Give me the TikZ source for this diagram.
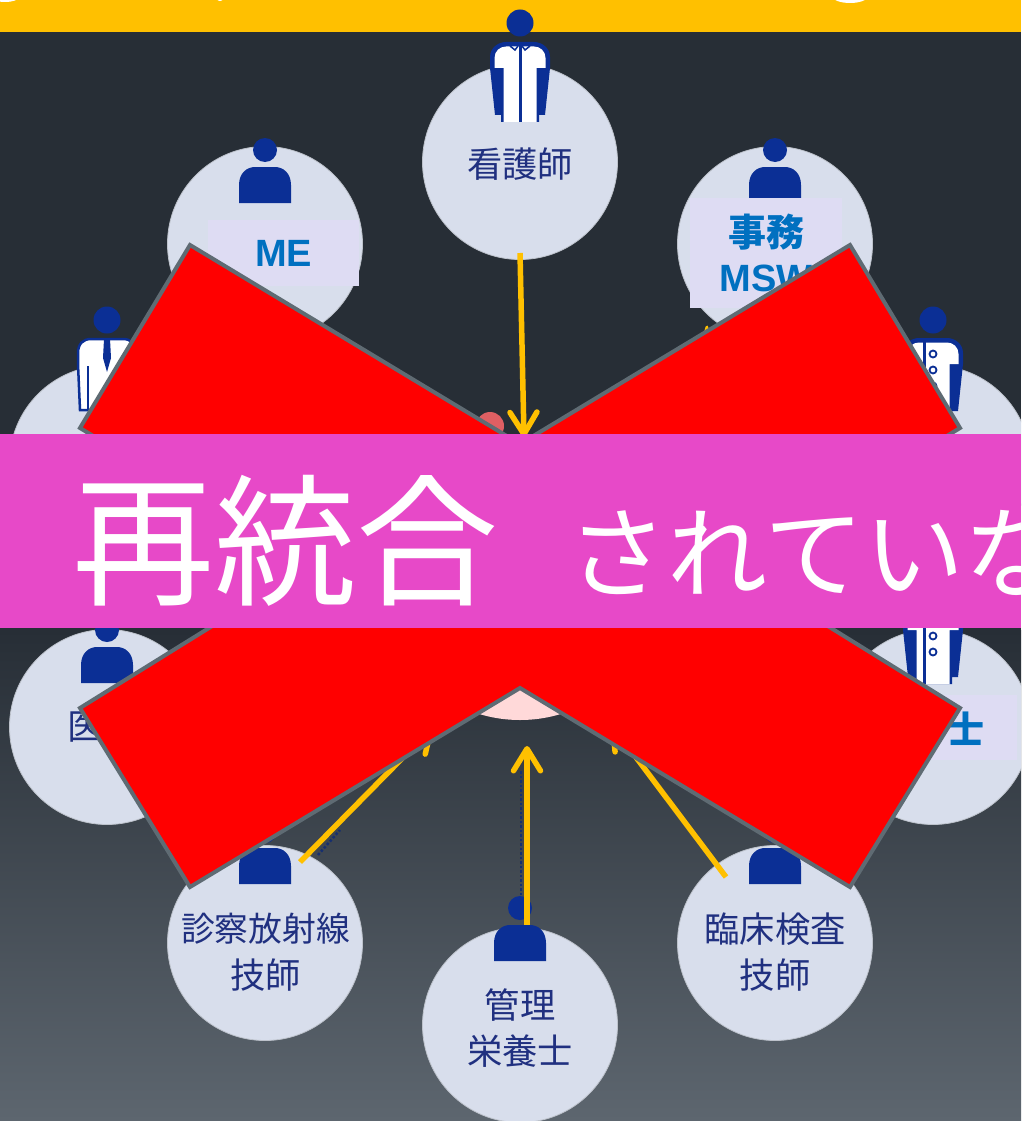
\documentclass[tikz,border=0pt]{standalone}
\usepackage{fontspec}
\setmainfont{Liberation Sans}
\newfontfamily\jpfont{Noto Sans CJK JP}
\usetikzlibrary{arrows.meta}
\definecolor{amber}{HTML}{FFC000}
\definecolor{slate}{HTML}{272E36}
\definecolor{slatelow}{HTML}{5D666F}
\definecolor{disc}{HTML}{D8DEEC}
\definecolor{navy}{HTML}{0B2F95}
\definecolor{jobink}{HTML}{203080}
\definecolor{boxfill}{HTML}{DEDCF3}
\definecolor{boxink}{HTML}{0070C0}
\definecolor{edgegray}{HTML}{5F6B73}
\definecolor{ribbon}{HTML}{E749C8}
\tikzset{%
  staff/.style    = {circle, draw=disc!70!gray, line width=0.8pt, fill=disc,%
                     inner sep=0pt, minimum size=195pt},%
  jobtext/.style  = {align=center, text=jobink, inner sep=0pt,%
                     font=\jpfont\fontsize{35.3}{46.5}\selectfont},%
  labelbox/.style = {fill=boxfill, text=boxink, align=center, inner sep=0pt,%
                     font=\bfseries\fontsize{38}{45}\selectfont},%
  flow/.style     = {draw=amber, line width=5.5pt,%
                     -{Straight Barb[length=22pt,width=27pt,round]}},%
  faint/.style    = {draw=navy!60!slate, line width=2.5pt, dotted},%
  bigword/.style  = {text=white, inner sep=0pt, anchor=base west},%
  pics/person/.style = {code={%
    \fill[navy] (0,-17) circle (12);%
    \fill[navy] (-26,36) -- (-26,18) .. controls (-26,6) and (-18,0) .. (-10,0)%
      -- (10,0) .. controls (18,0) and (26,6) .. (26,18) -- (26,36) -- cycle;%
  }},%
  pics/coat/.style = {code={%
    \fill[navy] (-19,73) -- (-25,73) -- (-30,26) -- (-30,15) .. controls (-30,6) and (-22,0) .. (-14,0)%
      -- (14,0) .. controls (22,0) and (30,6) .. (30,15) -- (30,26) -- (25,73) -- (19,73)%
      -- (19,80) -- (-19,80) -- cycle;%
    \fill[white] (-16.5,80) -- (-16.5,26) -- (-25.5,26) -- (-25.5,16) .. controls (-25.5,9) and (-20,4.5) .. (-14,4.5)%
      -- (14,4.5) .. controls (20,4.5) and (25.5,9) .. (25.5,16) -- (25.5,26) -- (16.5,26) -- (16.5,80) -- cycle;%
  }},%
  pics/doctorcoat/.style = {code={%
    \draw[navy, fill=white, line width=2.5pt] (-19,72) -- (-27,72) -- (-29,26) -- (-29,15)%
      .. controls (-29,6) and (-24,1) .. (-16,1) -- (16,1) .. controls (24,1) and (29,6) .. (29,15)%
      -- (29,26) -- (27,72) -- cycle;%
    \draw[navy, line width=2.5pt] (-19,28) -- (-19,72);%
    \fill[navy] (-3,1) -- (3,1) -- (4,20) -- (0,34) -- (-4,20) -- cycle;%
  }},%
  pics/buttons/.style = {code={%
    \foreach \y in {16,32,48}
      \draw[navy, line width=1.8pt, fill=white] (0,\y) circle (3.5);%
    \draw[navy, line width=3pt] (-9,2) -- (-9,80);%
  }}%
}
\begin{document}
\begin{tikzpicture}[x=1pt,y=-1pt]
	\path[use as bounding box,clip] (0,0) rectangle (1021,1121);
	% backdrop
	\fill[amber] (0,0) rectangle (1021,32);
	\fill[white] (5,-3) ellipse (14 and 5);
	\fill[white] (220,-1) ellipse (3 and 2);
	\fill[white] (850,-4) ellipse (18 and 7);
	\fill[slate] (0,32) rectangle (1021,630);
	\shade[top color=slate, bottom color=slatelow] (0,630) rectangle (1021,1121);
	% staff discs
	\node[staff] (nurse)   at (520,162)  {};
	\node[staff] (me)      at (265,244)  {};
	\node[staff] (clerk)   at (775,244)  {};
	\node[staff] (surgeon) at (107,463)  {};
	\node[staff] (pharma)  at (933,463)  {};
	\node[staff] (doctor)  at (107,727)  {};
	\node[staff] (therapy) at (933,727)  {};
	\node[staff] (xray)    at (265,943)  {};
	\node[staff] (lab)     at (775,943)  {};
	\node[staff] (diet)    at (520,1025) {};
	% figures
	\fill[navy] (520,23) circle (13.5);
	\pic at (520,42) {coat};
	\draw[navy, line width=3pt] (520,44) -- (520,122);
	\draw[navy, line width=1.5pt] (510,46) -- (515,50) -- (518,46) (522,46) -- (525,50) -- (530,46);
	\pic at (265,167) {person};
	\pic at (775,167) {person};
	\pic at (107,647) {person};
	\pic at (265,848) {person};
	\pic at (775,848) {person};
	\pic at (520,925) {person};
	\fill[navy] (107,320) circle (13.5);
	\pic at (107,338) {doctorcoat};
	\fill[navy] (933,320) circle (13.5);
	\pic at (933,338) {coat};
	\pic at (933,338) {buttons};
	\pic at (933,604) {coat};
	\pic at (933,604) {buttons};
	% job names
	\node[jobtext] (nursetext) at (520,164)  {看護師};
	\node[jobtext] (doctext)   at (85,727)   {医};
	\node[jobtext] (xraytext)  at (265.5,952) {\fontsize{33.8}{46.5}\selectfont 診察放射線\\技師};
	\node[jobtext] (labtext)   at (775,952)  {臨床検査\\技師};
	\node[jobtext] (diettext)  at (520,1028) {管理\\栄養士};
	\node[labelbox, minimum width=151pt, minimum height=66pt] (mebox) at (283.5,253) {ME};
	\node[labelbox, minimum width=152pt, minimum height=110pt] (clerkbox) at (766,253) {{\jpfont\bfseries 事務}\\MSW};
	\node[labelbox, minimum width=152pt, minimum height=65pt] (therapybox) at (941,727.5) {};
	\node[labelbox, fill=none, font=\jpfont\bfseries\fontsize{37}{45}\selectfont] (therapytext) at (966,729) {士};
	% patient in the middle
	\node[circle, fill=red!15!white, minimum size=280pt, inner sep=0pt] (patient) at (520,580) {};
	\node[circle, fill=red!60!disc!85!gray, minimum size=28pt, inner sep=0pt] (patienthead) at (490,426) {};
	% arrows
	\coordinate (a1) at (520,253);   \coordinate (b1) at (524,437);
	\coordinate (a2) at (527,925);   \coordinate (b2) at (527,746);
	\coordinate (a3) at (300,862);   \coordinate (b3) at (433,727);
	\coordinate (a4) at (726,877);   \coordinate (b4) at (611,724);
	\coordinate (a5) at (703,342);   \coordinate (b5) at (707,327);
	\coordinate (f1) at (521,895);   \coordinate (f2) at (521,770);
	\coordinate (f3) at (318,855);   \coordinate (f4) at (340,830);
	\draw[faint] (f1) -- (f2);
	\draw[faint] (f3) -- (f4);
	\draw[flow] (a1) -- (b1);
	\draw[flow] (a2) -- (b2);
	\draw[flow] (a3) -- (b3);
	\draw[flow] (a4) -- (b4);
	\draw[amber, line width=3pt, line cap=round] (a5) -- (b5);
	% the cross
	\draw[edgegray, fill=red, line width=4pt, miter limit=4]
		(190,245) -- (520,444) -- (850,245) -- (960,428) -- (731,566) -- (960,708)
		-- (850,887) -- (520,688) -- (190,887) -- (80,708) -- (309,566) -- (80,428) -- cycle;
	% ribbon
	\fill[ribbon] (0,434) rectangle (1021,628);
	\node[bigword, font=\jpfont\fontsize{142}{142}\selectfont] (rejoin) at (72,594) {再統合};
	\node[bigword, font=\jpfont\fontsize{100}{100}\selectfont] (notyet) at (567,590) {されていな};
\end{tikzpicture}
\end{document}
